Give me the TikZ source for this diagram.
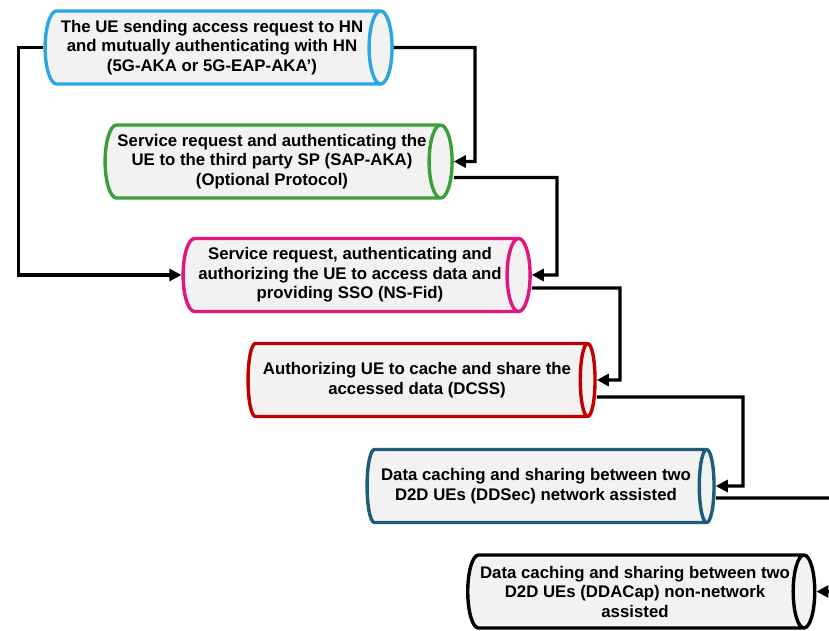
\documentclass[tikz,border=0pt]{standalone}
\usepackage{fontspec}
\setmainfont{Liberation Sans}
\usetikzlibrary{shapes.geometric,arrows.meta}
\definecolor{stageblue}{RGB}{43,166,224}
\definecolor{stagegreen}{RGB}{58,158,58}
\definecolor{stagepink}{RGB}{224,21,127}
\definecolor{stagered}{RGB}{192,0,0}
\definecolor{stageteal}{RGB}{31,92,122}
\definecolor{stagefill}{RGB}{242,242,242}
\tikzset{
  stage/.style={cylinder, draw, line width=3.4pt, fill=stagefill,
    minimum height=347pt, minimum width=73pt, aspect=0.42, inner sep=0pt,
    align=center, font=\fontsize{16.8}{19.5}\selectfont\bfseries},
  flow/.style={line width=3.4pt, -{Triangle[length=12pt,width=12pt]}}
}
\begin{document}
\begin{tikzpicture}[x=1pt,y=-1pt]
    \useasboundingbox (0,0) rectangle (829,630);
    % the six stages
    \node[stage, draw=stageblue] (ue) at (212,47.5) {The UE sending access request to HN\\and mutually authenticating with HN\\(5G-AKA or 5G-EAP-AKA’)};
    \node[stage, draw=stagegreen] (sap) at (272,161.5) {Service request and authenticating the\\UE to the third party SP (SAP-AKA)\\(Optional Protocol)};
    \node[stage, draw=stagepink] (nsfid) at (350,275) {Service request, authenticating and\\authorizing the UE to access data and\\providing SSO (NS-Fid)};
    \node[stage, draw=stagered] (dcss) at (417,380) {Authorizing UE to cache and share the\\accessed data (DCSS)};
    \node[stage, draw=stageteal] (ddsec) at (536,486) {Data caching and sharing between two\\D2D UEs (DDSec) network assisted};
    \node[stage, draw=black] (ddacap) at (635,591.5) {Data caching and sharing between two\\D2D UEs (DDACap) non-network\\assisted};
    % connectors
    \draw[flow] (ue.east) -- (475,47.5) |- (sap.east);
    \draw[flow] (ue.west) -- ++(-25,0) |- (nsfid.west);
    \draw[flow] ([yshift=-16pt]sap.east) -- (557,177.5) |- (nsfid.east);
    \draw[flow] ([yshift=-13pt]nsfid.east) -- (620,288) |- (dcss.east);
    \draw[flow] ([yshift=-17pt]dcss.east) -- (743,397) |- (ddsec.east);
    \draw[flow] ([yshift=-12pt]ddsec.east) -- (862,498) |- (ddacap.east);
\end{tikzpicture}
\end{document}
